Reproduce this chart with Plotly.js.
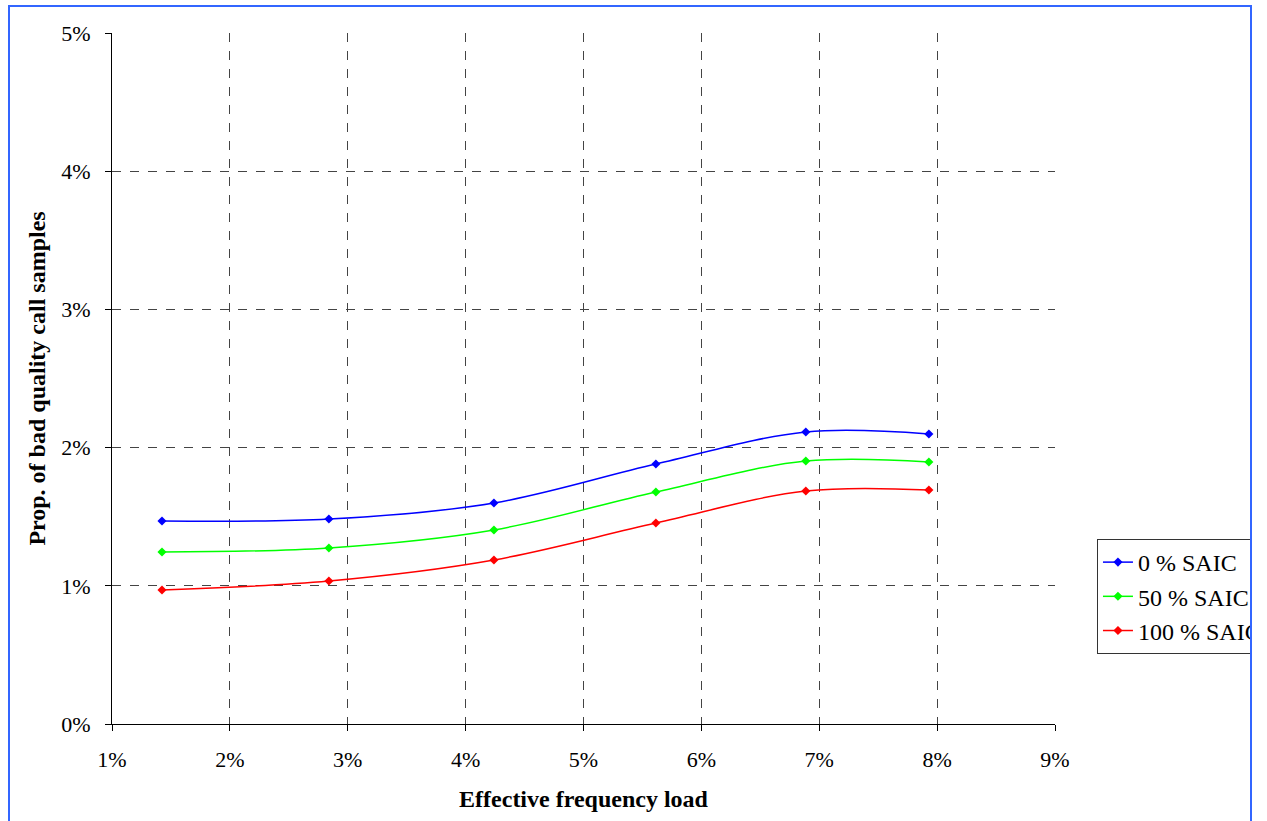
<!DOCTYPE html>
<html>
<head>
<meta charset="utf-8">
<script src="https://cdn.plot.ly/plotly-3.0.1.min.js"></script>
<style>
html,body{margin:0;padding:0;background:#fff;overflow:hidden;}
#chart{width:1267px;height:821px;}
#frame{position:absolute;left:8px;top:5px;width:1240px;height:830px;border-left:2px solid #3366FF;border-top:2px solid #3366FF;border-right:2px solid #3366FF;pointer-events:none;}
#cover{position:absolute;left:1251px;top:0;width:20px;height:821px;background:#fff;}
</style>
</head>
<body>
<div id="chart"></div>
<div id="cover"></div>
<div id="frame"></div>
<script>
var loads = [1.424, 2.84, 4.24, 5.614, 6.886, 7.93];
var saic0 = [1.469, 1.483, 1.599, 1.881, 2.113, 2.098];
var saic50 = [1.245, 1.274, 1.404, 1.679, 1.903, 1.896];
var saic100 = [0.970, 1.035, 1.187, 1.454, 1.686, 1.693];
var names = ['0 % SAIC', '50 % SAIC', '100 % SAIC'];
var colors = ['#0000FF', '#00FF00', '#FF0000'];
var series = [saic0, saic50, saic100];
var xTicks = [1,2,3,4,5,6,7,8,9];
var yTicks = [0,1,2,3,4,5];

var traces = series.map(function(s, i){
  return {
    x: loads, y: s, name: names[i], type: 'scatter', mode: 'lines+markers',
    line: {color: colors[i], width: 1.5, shape: 'spline', smoothing: 1},
    marker: {symbol: 'diamond', size: 7, color: colors[i]}
  };
});

var fam = '"Liberation Serif", "Times New Roman", serif';
var layout = {
  width: 1267, height: 821,
  margin: {l: 112, r: 212, t: 33, b: 97, autoexpand: false},
  paper_bgcolor: '#fff', plot_bgcolor: '#fff',
  font: {family: fam, color: '#000', size: 21},
  showlegend: true,
  legend: {x: 1.0445, xanchor: 'left', y: 0.2677, yanchor: 'top',
    bordercolor: '#333', borderwidth: 1, bgcolor: '#fff',
    font: {family: fam, size: 24, color: '#000'}, tracegroupgap: 0},
  xaxis: {
    range: [1, 9], tickvals: xTicks, ticktext: xTicks.map(function(v){return v + '%';}),
    tickfont: {family: fam, size: 22, color: '#000'},
    showline: true, linecolor: '#000', linewidth: 1, ticks: 'outside', ticklen: 6, tickcolor: '#000',
    showgrid: true, gridcolor: '#444', griddash: 'dash', gridwidth: 1, zeroline: false,
    ticklabelstandoff: 10, automargin: false,
    title: {text: '<b>Effective frequency load</b>', font: {family: fam, size: 24, color: '#000'}, standoff: 18}
  },
  yaxis: {
    range: [0, 5], tickvals: yTicks, ticktext: yTicks.map(function(v){return v + '%';}),
    tickfont: {family: fam, size: 22, color: '#000'},
    showline: true, linecolor: '#000', linewidth: 1, ticks: 'outside', ticklen: 6, tickcolor: '#000',
    showgrid: true, gridcolor: '#444', griddash: 'dash', gridwidth: 1, zeroline: false,
    ticklabelstandoff: 10, automargin: false,
    title: {text: '<b>Prop. of bad quality call samples</b>', font: {family: fam, size: 24, color: '#000'}, standoff: 8}
  }
};
Plotly.newPlot('chart', traces, layout, {displayModeBar: false, staticPlot: true});
</script>
</body>
</html>
